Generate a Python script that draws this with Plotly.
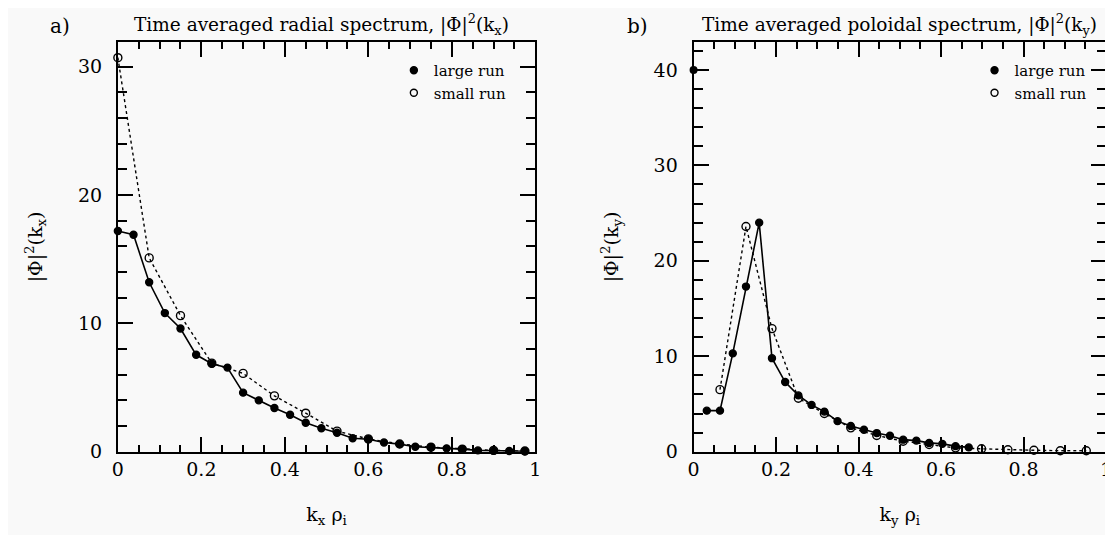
import plotly.graph_objects as go

# ---- data: panel a (radial spectrum) ----
kx_large = [0, 0.0375, 0.075, 0.1125, 0.15, 0.1875, 0.225, 0.2625, 0.3, 0.3375, 0.375,
            0.4125, 0.45, 0.4875, 0.525, 0.5625, 0.6, 0.6375, 0.675, 0.7125, 0.75,
            0.7875, 0.825, 0.8625, 0.9, 0.9375, 0.975]
phi_kx_large = [17.2, 16.9, 13.2, 10.8, 9.6, 7.55, 6.85, 6.55, 4.6, 4.0, 3.4,
                2.88, 2.25, 1.83, 1.48, 1.05, 0.97, 0.72, 0.59, 0.38, 0.34,
                0.26, 0.2, 0.1, 0.08, 0.05, 0.03]
kx_small = [0, 0.075, 0.15, 0.225, 0.3, 0.375, 0.45, 0.525, 0.6, 0.675, 0.75, 0.825, 0.9, 0.975]
phi_kx_small = [30.7, 15.1, 10.6, 6.9, 6.1, 4.35, 3.0, 1.6, 1.0, 0.6, 0.35, 0.2, 0.1, 0.05]

# ---- data: panel b (poloidal spectrum) ----
ky_large = [0, 0.032, 0.064, 0.095, 0.127, 0.159, 0.19, 0.222, 0.254, 0.286, 0.317,
            0.349, 0.381, 0.413, 0.444, 0.476, 0.508, 0.54, 0.571, 0.603, 0.635, 0.667]
phi_ky_large = [40.0, 4.3, 4.3, 10.3, 17.3, 24.0, 9.8, 7.3, 5.9, 4.9, 4.2,
                3.2, 2.7, 2.3, 1.95, 1.67, 1.26, 1.16, 0.92, 0.82, 0.58, 0.45]
ky_small = [0.064, 0.127, 0.19, 0.254, 0.317, 0.381, 0.444, 0.508, 0.571, 0.635,
            0.698, 0.762, 0.825, 0.889, 0.952]
phi_ky_small = [6.5, 23.6, 12.9, 5.6, 4.0, 2.5, 1.7, 1.1, 0.75, 0.4,
                0.3, 0.2, 0.15, 0.1, 0.1]

FONT = "DejaVu Serif"
BG = "#f9f9f9"

fig = go.Figure()

def line_trace(x, y, xa, ya, filled):
    return go.Scatter(
        x=x, y=y, xaxis=xa, yaxis=ya, mode="lines+markers",
        line=dict(color="black", width=1.6 if filled else 1.4, dash="solid" if filled else "dot"),
        marker=dict(symbol="circle" if filled else "circle-open", size=7 if filled else 8,
                    color="black", line=dict(color="black", width=1.4)),
        showlegend=False, cliponaxis=False)

def legend_trace(xa, ya, filled, name, legend):
    return go.Scatter(
        x=[None], y=[None], xaxis=xa, yaxis=ya, mode="markers", name=name,
        marker=dict(symbol="circle" if filled else "circle-open", size=7,
                    color="black", line=dict(color="black", width=1.4)),
        showlegend=True, legend=legend)

# panel a
fig.add_trace(line_trace(kx_large, phi_kx_large, "x", "y", True))
fig.add_trace(line_trace(kx_small, phi_kx_small, "x", "y", False))
fig.add_trace(legend_trace("x", "y", True, "large run", "legend"))
fig.add_trace(legend_trace("x", "y", False, "small run", "legend"))
# panel b: k=0 point of the large run is drawn as an isolated marker
fig.add_trace(go.Scatter(x=ky_large[:1], y=phi_ky_large[:1], xaxis="x2", yaxis="y2", mode="markers",
                         marker=dict(symbol="circle", size=8, color="black"),
                         showlegend=False, cliponaxis=False))
fig.add_trace(line_trace(ky_large[1:], phi_ky_large[1:], "x2", "y2", True))
fig.add_trace(line_trace(ky_small, phi_ky_small, "x2", "y2", False))
fig.add_trace(legend_trace("x2", "y2", True, "large run", "legend2"))
fig.add_trace(legend_trace("x2", "y2", False, "small run", "legend2"))

W, H = 1113, 535
def px_x(p): return p / W
def px_y(p): return 1 - p / H

XA = [px_x(105), px_x(527)]
XB = [px_x(687), px_x(1104)]
YD = [px_y(453), px_y(35)]

axis_common = dict(
    showgrid=False, zeroline=False, showline=True, linecolor="black", linewidth=2,
    mirror="ticks", ticks="inside", ticklen=15, tickwidth=2, tickcolor="black",
    tickfont=dict(family=FONT, size=19, color="black"),
)
xaxis_common = dict(axis_common, range=[0, 1], dtick=0.2,
                    minor=dict(dtick=0.05, ticks="inside", ticklen=7, tickwidth=1.6, tickcolor="black"))
yminor = dict(dtick=2, ticks="inside", ticklen=9, tickwidth=1.6, tickcolor="black")

fig.update_layout(
    width=W, height=H, margin=dict(l=0, r=0, t=0, b=0),
    paper_bgcolor=BG, plot_bgcolor=BG,
    font=dict(family=FONT, color="black"),
    xaxis=dict(xaxis_common, domain=XA, anchor="y",
               title=dict(text="k<sub>x</sub> ρ<sub>i</sub>", font=dict(family=FONT, size=19), standoff=28)),
    yaxis=dict(axis_common, domain=YD, anchor="x", range=[0, 31.9], dtick=10, minor=yminor,
               ticklabelstandoff=10,
               title=dict(text="|Φ|<sup>2</sup>(k<sub>x</sub>)", font=dict(family=FONT, size=19), standoff=30)),
    xaxis2=dict(xaxis_common, domain=XB, anchor="y2",
                title=dict(text="k<sub>y</sub> ρ<sub>i</sub>", font=dict(family=FONT, size=19), standoff=28)),
    yaxis2=dict(axis_common, domain=YD, anchor="x2", range=[0, 42.9], dtick=10, minor=yminor,
                ticklabelstandoff=10,
                title=dict(text="|Φ|<sup>2</sup>(k<sub>y</sub>)", font=dict(family=FONT, size=19), standoff=30)),
    legend=dict(x=px_x(384), y=px_y(47), xanchor="left", yanchor="top", bgcolor="rgba(0,0,0,0)",
                font=dict(family=FONT, size=15, color="black"), itemwidth=30, tracegroupgap=0),
    legend2=dict(x=px_x(971), y=px_y(47), xanchor="left", yanchor="top", bgcolor="rgba(0,0,0,0)",
                 font=dict(family=FONT, size=15, color="black"), itemwidth=30, tracegroupgap=0),
    annotations=[
        dict(text="a)", x=px_x(46), y=px_y(18), xref="paper", yref="paper", showarrow=False,
             font=dict(family=FONT, size=20), xanchor="center", yanchor="middle"),
        dict(text="Time averaged radial spectrum, |Φ|<sup>2</sup>(k<sub>x</sub>)",
             x=px_x(311), y=px_y(17), xref="paper", yref="paper", showarrow=False,
             font=dict(family=FONT, size=18.5), xanchor="center", yanchor="middle"),
        dict(text="b)", x=px_x(630), y=px_y(18), xref="paper", yref="paper", showarrow=False,
             font=dict(family=FONT, size=20), xanchor="center", yanchor="middle"),
        dict(text="Time averaged poloidal spectrum, |Φ|<sup>2</sup>(k<sub>y</sub>)",
             x=px_x(895), y=px_y(17), xref="paper", yref="paper", showarrow=False,
             font=dict(family=FONT, size=18.5), xanchor="center", yanchor="middle"),
    ],
)

fig.write_html("out.html")
